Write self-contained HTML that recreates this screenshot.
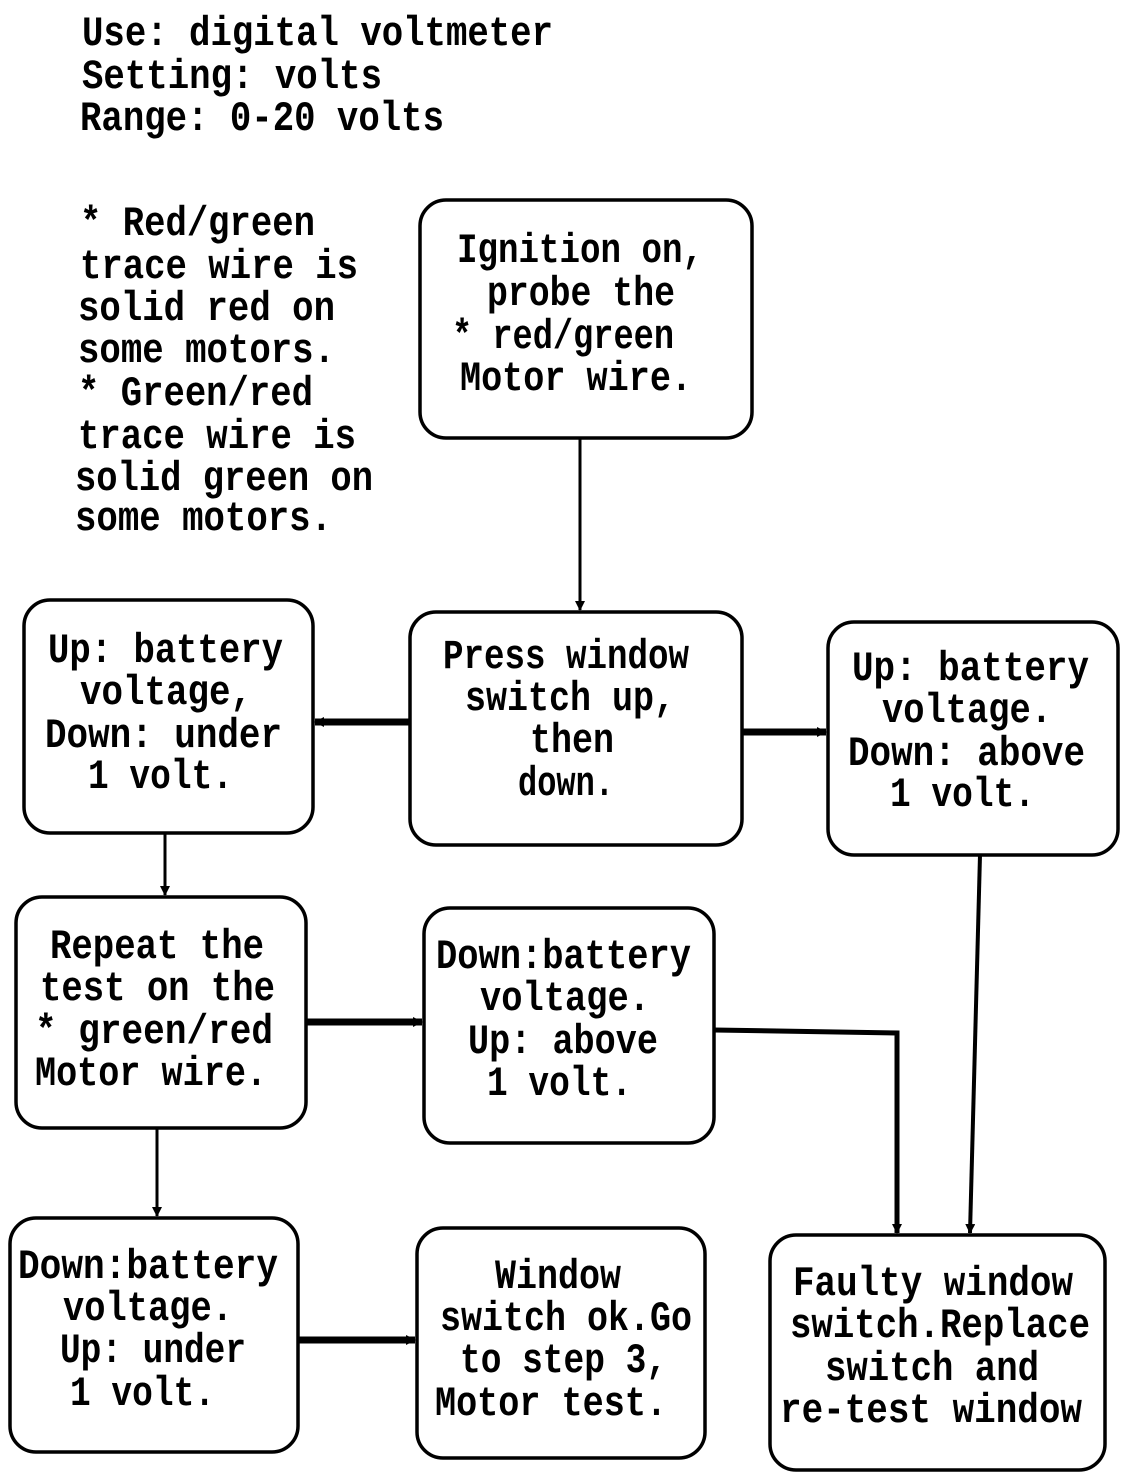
<!DOCTYPE html>
<html><head><meta charset="utf-8"><style>
html,body{margin:0;padding:0;background:#fff;}
svg{display:block;}
text{font-family:"Liberation Mono",monospace;font-size:42px;font-weight:bold;fill:#000;}
</style></head><body>
<svg width="1136" height="1478" viewBox="0 0 1136 1478" xmlns="http://www.w3.org/2000/svg">
<defs>
<marker id="a" markerWidth="10" markerHeight="10" refX="9" refY="5" orient="auto" markerUnits="userSpaceOnUse"><path d="M0,0 L10,5 L0,10 z" fill="#000"/></marker>
</defs>
<g fill="none" stroke="#000" stroke-width="3.5">
<rect x="420" y="200" width="332" height="238" rx="26"/>
<rect x="410" y="612" width="332" height="233" rx="26"/>
<rect x="24" y="600" width="289" height="233" rx="26"/>
<rect x="828" y="622" width="290" height="233" rx="26"/>
<rect x="16" y="897" width="290" height="231" rx="26"/>
<rect x="424" y="908" width="290" height="235" rx="26"/>
<rect x="10" y="1218" width="288" height="234" rx="26"/>
<rect x="417" y="1228" width="288" height="230" rx="26"/>
<rect x="770" y="1235" width="335" height="235" rx="26"/>
</g>
<g fill="none" stroke="#000">
<line x1="580" y1="438" x2="580" y2="610" stroke-width="3" marker-end="url(#a)"/>
<line x1="410" y1="722" x2="315" y2="722" stroke-width="7" marker-end="url(#a)"/>
<line x1="742" y1="732" x2="826" y2="732" stroke-width="7" marker-end="url(#a)"/>
<line x1="165" y1="833" x2="165" y2="895" stroke-width="3" marker-end="url(#a)"/>
<line x1="306" y1="1022" x2="422" y2="1022" stroke-width="7" marker-end="url(#a)"/>
<polyline points="714,1030 897,1033 897,1233" stroke-width="5" marker-end="url(#a)"/>
<line x1="980" y1="855" x2="970" y2="1233" stroke-width="4" marker-end="url(#a)"/>
<line x1="157" y1="1128" x2="157" y2="1216" stroke-width="3" marker-end="url(#a)"/>
<line x1="298" y1="1340" x2="415" y2="1340" stroke-width="7" marker-end="url(#a)"/>
</g>
<g>
<text x="82" y="45" textLength="471" lengthAdjust="spacingAndGlyphs">Use: digital voltmeter</text>
<text x="82" y="88" textLength="300" lengthAdjust="spacingAndGlyphs">Setting: volts</text>
<text x="80" y="130" textLength="364" lengthAdjust="spacingAndGlyphs">Range: 0-20 volts</text>

<text x="80" y="235" textLength="235" lengthAdjust="spacingAndGlyphs">* Red/green</text>
<text x="80" y="278" textLength="278" lengthAdjust="spacingAndGlyphs">trace wire is</text>
<text x="78" y="320" textLength="257" lengthAdjust="spacingAndGlyphs">solid red on</text>
<text x="78" y="362" textLength="257" lengthAdjust="spacingAndGlyphs">some motors.</text>
<text x="78" y="405" textLength="235" lengthAdjust="spacingAndGlyphs">* Green/red</text>
<text x="78" y="448" textLength="278" lengthAdjust="spacingAndGlyphs">trace wire is</text>
<text x="75" y="490" textLength="298" lengthAdjust="spacingAndGlyphs">solid green on</text>
<text x="75" y="530" textLength="257" lengthAdjust="spacingAndGlyphs">some motors.</text>

<text x="457" y="262" textLength="246" lengthAdjust="spacingAndGlyphs">Ignition on,</text>
<text x="487" y="305" textLength="188" lengthAdjust="spacingAndGlyphs">probe the</text>
<text x="452" y="348" textLength="222" lengthAdjust="spacingAndGlyphs">* red/green</text>
<text x="460" y="390" textLength="232" lengthAdjust="spacingAndGlyphs">Motor wire.</text>

<text x="443" y="668" textLength="246" lengthAdjust="spacingAndGlyphs">Press window</text>
<text x="465" y="710" textLength="210" lengthAdjust="spacingAndGlyphs">switch up,</text>
<text x="530" y="752" textLength="84" lengthAdjust="spacingAndGlyphs">then</text>
<text x="518" y="795" textLength="96" lengthAdjust="spacingAndGlyphs">down.</text>

<text x="48" y="662" textLength="235" lengthAdjust="spacingAndGlyphs">Up: battery</text>
<text x="80" y="704" textLength="172" lengthAdjust="spacingAndGlyphs">voltage,</text>
<text x="45" y="747" textLength="237" lengthAdjust="spacingAndGlyphs">Down: under</text>
<text x="88" y="788" textLength="145" lengthAdjust="spacingAndGlyphs">1 volt.</text>

<text x="852" y="680" textLength="237" lengthAdjust="spacingAndGlyphs">Up: battery</text>
<text x="882" y="722" textLength="170" lengthAdjust="spacingAndGlyphs">voltage.</text>
<text x="848" y="765" textLength="237" lengthAdjust="spacingAndGlyphs">Down: above</text>
<text x="890" y="806" textLength="145" lengthAdjust="spacingAndGlyphs">1 volt.</text>

<text x="50" y="958" textLength="214" lengthAdjust="spacingAndGlyphs">Repeat the</text>
<text x="40" y="1000" textLength="235" lengthAdjust="spacingAndGlyphs">test on the</text>
<text x="35" y="1043" textLength="238" lengthAdjust="spacingAndGlyphs">* green/red</text>
<text x="35" y="1085" textLength="232" lengthAdjust="spacingAndGlyphs">Motor wire.</text>

<text x="436" y="968" textLength="255" lengthAdjust="spacingAndGlyphs">Down:battery</text>
<text x="480" y="1010" textLength="170" lengthAdjust="spacingAndGlyphs">voltage.</text>
<text x="468" y="1053" textLength="190" lengthAdjust="spacingAndGlyphs">Up: above</text>
<text x="487" y="1095" textLength="145" lengthAdjust="spacingAndGlyphs">1 volt.</text>

<text x="18" y="1278" textLength="260" lengthAdjust="spacingAndGlyphs">Down:battery</text>
<text x="63" y="1320" textLength="170" lengthAdjust="spacingAndGlyphs">voltage.</text>
<text x="60" y="1362" textLength="186" lengthAdjust="spacingAndGlyphs">Up: under</text>
<text x="70" y="1405" textLength="145" lengthAdjust="spacingAndGlyphs">1 volt.</text>

<text x="495" y="1288" textLength="126" lengthAdjust="spacingAndGlyphs">Window</text>
<text x="440" y="1330" textLength="252" lengthAdjust="spacingAndGlyphs">switch ok.Go</text>
<text x="460" y="1372" textLength="207" lengthAdjust="spacingAndGlyphs">to step 3,</text>
<text x="435" y="1415" textLength="232" lengthAdjust="spacingAndGlyphs">Motor test.</text>

<text x="793" y="1295" textLength="280" lengthAdjust="spacingAndGlyphs">Faulty window</text>
<text x="790" y="1337" textLength="300" lengthAdjust="spacingAndGlyphs">switch.Replace</text>
<text x="825" y="1380" textLength="214" lengthAdjust="spacingAndGlyphs">switch and</text>
<text x="780" y="1422" textLength="302" lengthAdjust="spacingAndGlyphs">re-test window</text>
</g>
</svg>
</body></html>
